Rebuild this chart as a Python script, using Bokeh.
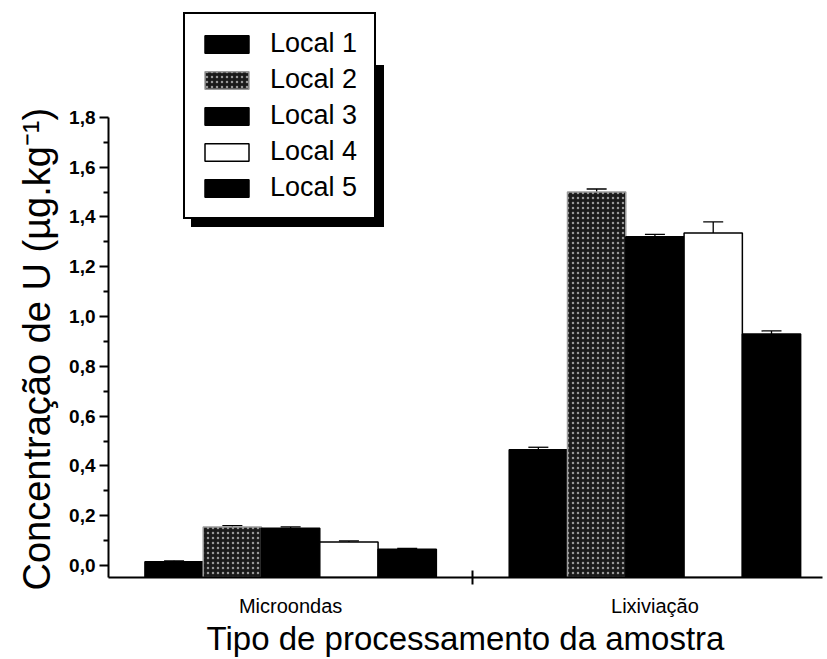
from bokeh.plotting import figure
from bokeh.models import (ColumnDataSource, FixedTicker, Legend, LegendItem,
                          Whisker, TeeHead, Range1d, Title)
from bokeh.embed import file_html
from bokeh.resources import INLINE

# ---- data ----
groups = ["Microondas", "Lixiviação"]
series = ["Local 1", "Local 2", "Local 3", "Local 4", "Local 5"]
local1 = [0.015, 0.465]
local2 = [0.155, 1.500]
local3 = [0.150, 1.320]
local4 = [0.095, 1.335]
local5 = [0.065, 0.930]
err1 = [0.004, 0.010]
err2 = [0.005, 0.012]
err3 = [0.005, 0.010]
err4 = [0.004, 0.045]
err5 = [0.004, 0.012]
y_ticks = [0.0, 0.2, 0.4, 0.6, 0.8, 1.0, 1.2, 1.4, 1.6, 1.8]
y_minor = [0.1, 0.3, 0.5, 0.7, 0.9, 1.1, 1.3, 1.5, 1.7]
y_tick_labels = ["0,0", "0,2", "0,4", "0,6", "0,8", "1,0", "1,2", "1,4", "1,6", "1,8"]
x_title = "Tipo de processamento da amostra"
y_title = "Concentração de U (µg.kg⁻¹)"

values = [local1, local2, local3, local4, local5]
errors = [err1, err2, err3, err4, err5]

FONT = "Liberation Sans"
Y0 = -0.048
Y_AXIS_TOP = 1.8
Y_VIEW_TOP = 2.269   # extra room above the axis for the legend
BAR_W = 0.16
offsets = [-0.32, -0.16, 0.0, 0.16, 0.32]
group_pos = [1, 2]

styles = [
    dict(fill_color="black", line_color="black"),
    dict(fill_color="#1a1a1a", line_color="#9a9a9a", hatch_pattern="dot",
         hatch_color="white", hatch_scale=5, hatch_weight=1.2, hatch_alpha=0.55),
    dict(fill_color="black", line_color="black"),
    dict(fill_color="white", line_color="black"),
    dict(fill_color="black", line_color="black"),
]

p = figure(width=827, height=659, output_backend="svg", toolbar_location=None,
           x_range=Range1d(0.5, 2.46), y_range=Range1d(Y0, Y_VIEW_TOP),
           min_border_left=108, min_border_right=5, min_border_top=0,
           min_border_bottom=81)
p.outline_line_color = None
p.xgrid.grid_line_color = None
p.ygrid.grid_line_color = None
p.background_fill_color = "white"

renderers = []
for i, name in enumerate(series):
    xs = [g + offsets[i] for g in group_pos]
    src = ColumnDataSource(dict(x=xs, top=values[i],
                                upper=[v + e for v, e in zip(values[i], errors[i])],
                                lower=[v - e for v, e in zip(values[i], errors[i])]))
    r = p.vbar(x="x", top="top", bottom=Y0, width=BAR_W, source=src,
               line_width=1.5, **styles[i])
    renderers.append(r)
    w = Whisker(base="x", upper="upper", lower="lower", source=src,
                line_color="black", line_width=1.3,
                upper_head=TeeHead(size=20, line_color="black", line_width=1.3),
                lower_head=TeeHead(size=20, line_color="black", line_width=1.3))
    p.add_layout(w)

# x axis
p.xaxis.ticker = FixedTicker(ticks=group_pos, minor_ticks=[1.5])
p.xaxis.major_label_overrides = {1: groups[0], 2: groups[1]}
p.xaxis.major_tick_in = 0
p.xaxis.major_tick_out = 0
p.xaxis.minor_tick_in = 7
p.xaxis.minor_tick_out = 7
p.xaxis.minor_tick_line_width = 2
p.xaxis.major_label_standoff = 10
p.xaxis.major_label_text_font = FONT
p.xaxis.major_label_text_font_size = "20px"
p.xaxis.major_label_text_color = "black"
p.xaxis.axis_label = x_title
p.xaxis.axis_label_text_font = FONT
p.xaxis.axis_label_text_font_size = "33px"
p.xaxis.axis_label_text_font_style = "normal"
p.xaxis.axis_label_text_color = "black"
p.xaxis.axis_label_standoff = 0
p.xaxis.axis_line_width = 2

# y axis
p.yaxis.bounds = (Y0, Y_AXIS_TOP)
p.yaxis.ticker = FixedTicker(ticks=y_ticks, minor_ticks=y_minor)
p.yaxis.major_label_overrides = {t: l for t, l in zip(y_ticks, y_tick_labels)}
p.yaxis.major_tick_in = 0
p.yaxis.major_tick_out = 9
p.yaxis.minor_tick_in = 0
p.yaxis.minor_tick_out = 5
p.yaxis.major_tick_line_width = 2
p.yaxis.minor_tick_line_width = 2
p.yaxis.major_label_standoff = 4
p.yaxis.major_label_text_font = FONT
p.yaxis.major_label_text_font_size = "19px"
p.yaxis.major_label_text_font_style = "bold"
p.yaxis.major_label_text_color = "black"
p.yaxis.axis_line_width = 2

# y title placed along the axis extent (not the whole frame)
yt = Title(text=y_title, align="left", offset=-13, text_font=FONT,
           text_font_size="38px", text_font_style="normal", text_color="black",
           standoff=18)
p.add_layout(yt, "left")

# legend with drop shadow
def make_legend(loc, bg, labels):
    items = [LegendItem(label=n, renderers=[r]) for n, r in zip(labels, renderers)]
    return Legend(items=items, location=loc, background_fill_color=bg,
                  background_fill_alpha=1.0, border_line_color="black",
                  border_line_alpha=1.0,
                  border_line_width=2, label_text_font=FONT,
                  label_text_font_size="27px", label_text_color="black",
                  glyph_width=55, glyph_height=22, label_width=90,
                  label_height=22, spacing=5, padding=14, margin=0,
                  label_standoff=16)

shadow = make_legend((83, 350), "black", [" "] * len(series))
main = make_legend((75, 358), "white", series)
p.add_layout(shadow, "center")
p.add_layout(main, "center")

open("out.html", "w").write(file_html(p, INLINE))
